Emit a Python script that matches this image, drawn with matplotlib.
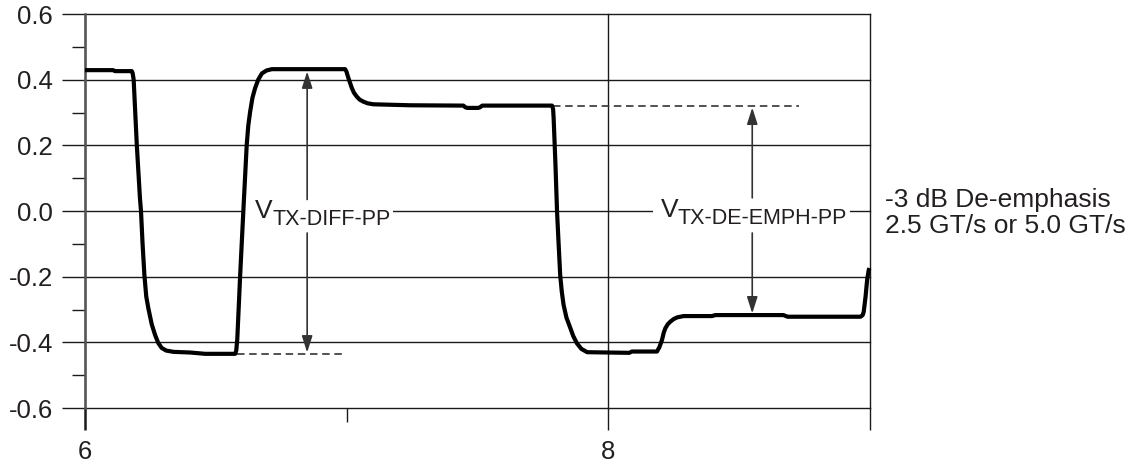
import matplotlib
matplotlib.use('Agg')
import matplotlib.pyplot as plt
from matplotlib.patches import Rectangle
import matplotlib.transforms as mtransforms

plt.rcParams['font.family'] = ['Liberation Sans', 'DejaVu Sans']

# ---- data ----
wave_t = [6.000, 6.107, 6.115, 6.179, 6.182, 6.186, 6.192, 6.198, 6.204, 6.210,
          6.214, 6.220, 6.227, 6.234, 6.242, 6.255, 6.268, 6.280, 6.293, 6.310,
          6.338, 6.402, 6.459, 6.574, 6.578, 6.582, 6.593, 6.605, 6.618, 6.624,
          6.631, 6.640, 6.650, 6.662, 6.676, 6.694, 6.714, 6.994, 6.999, 7.007,
          7.020, 7.028, 7.039, 7.050, 7.064, 7.080, 7.102, 7.243, 7.446, 7.453,
          7.461, 7.503, 7.510, 7.518, 7.785, 7.789, 7.791, 7.798, 7.804, 7.810,
          7.816, 7.822, 7.829, 7.840, 7.855, 7.866, 7.880, 7.897, 7.919, 8.080,
          8.090, 8.186, 8.195, 8.205, 8.212, 8.218, 8.227, 8.237, 8.250, 8.263,
          8.288, 8.396, 8.409, 8.669, 8.685, 8.964, 8.972, 8.976, 8.983, 8.989,
          8.995, 8.998]
wave_v = [0.429, 0.429, 0.426, 0.426, 0.420, 0.400, 0.300, 0.201, 0.120, 0.039,
          0.000, -0.100, -0.195, -0.260, -0.296, -0.345, -0.378, -0.402, -0.417, -0.425,
          -0.429, -0.431, -0.435, -0.435, -0.425, -0.390, -0.195, -0.002, 0.201, 0.260,
          0.302, 0.345, 0.374, 0.400, 0.419, 0.428, 0.432, 0.432, 0.425, 0.404,
          0.374, 0.360, 0.348, 0.339, 0.333, 0.328, 0.325, 0.322, 0.321, 0.316,
          0.314, 0.314, 0.316, 0.321, 0.321, 0.310, 0.282, 0.140, -0.002, -0.100,
          -0.195, -0.245, -0.286, -0.325, -0.357, -0.381, -0.403, -0.420, -0.430, -0.432,
          -0.428, -0.428, -0.415, -0.393, -0.370, -0.357, -0.345, -0.337, -0.329, -0.324,
          -0.320, -0.320, -0.317, -0.317, -0.322, -0.322, -0.317, -0.307, -0.261, -0.210,
          -0.180, -0.174]

x_major = [6, 8, 9]
x_major_labels = ['6', '8', '']
x_minor = [7]
y_major = [-0.6, -0.4, -0.2, 0.0, 0.2, 0.4, 0.6]
y_major_labels = ['-0.6', '-0.4', '-0.2', '0.0', '0.2', '0.4', '0.6']
y_minor = [-0.5, -0.3, -0.1, 0.1, 0.3, 0.5]

# annotation values
diff_high, diff_low = 0.430, -0.435
diff_x = 6.849
diff_dash = (6.58, 6.99)
emph_high, emph_low = 0.321, -0.312
emph_x = 8.55
emph_dash = (7.79, 8.727)
label_diff = ('V', 'TX-DIFF-PP')
label_emph = ('V', 'TX-DE-EMPH-PP')
side_text = ['-3 dB De-emphasis', '2.5 GT/s or 5.0 GT/s']

INK = '#231f20'
GRID = '#1a1a1a'

fig = plt.figure(figsize=(11.37, 4.67), dpi=100)
ax = fig.add_axes([85 / 1137, 1 - 408 / 467, (870 - 85) / 1137, (408 - 14) / 467])
ax.set_xlim(6, 9)
ax.set_ylim(-0.6, 0.6)

for side in ['top', 'right', 'bottom']:
    ax.spines[side].set_visible(False)
ax.spines['left'].set_color('#555555')
ax.spines['left'].set_linewidth(1.8)

ax.set_xticks(x_major)
ax.set_xticklabels(x_major_labels)
ax.set_xticks(x_minor, minor=True)
ax.set_yticks(y_major)
ax.set_yticklabels(y_major_labels)
ax.set_yticks(y_minor, minor=True)

ax.tick_params(axis='y', which='major', direction='out', length=16.6, width=1.0,
               color=GRID, pad=6.5, labelsize=18.5, labelcolor=INK)
ax.tick_params(axis='y', which='minor', direction='out', length=9.4, width=1.0, color=GRID)
ax.tick_params(axis='x', which='major', direction='out', length=15.8, width=1.0,
               color=GRID, pad=7.5, labelsize=18.5, labelcolor=INK)
ax.tick_params(axis='x', which='minor', direction='out', length=10, width=1.0, color=GRID)
t0 = ax.xaxis.get_major_ticks()[0]
t0.tick1line.set_color('#555555')
t0.tick1line.set_markeredgewidth(1.8)

ax.set_axisbelow(True)
ax.grid(True, which='major', color=GRID, lw=1.0)
for ln in ax.get_xgridlines() + ax.get_ygridlines():
    ln.set_clip_on(False)

# white gaps behind labels (hide 0.0 grid line)
ax.add_patch(Rectangle((6.606, -0.02), 7.178 - 6.606, 0.04, facecolor='white',
                       edgecolor='none', zorder=1.5))
ax.add_patch(Rectangle((8.172, -0.02), 8.925 - 8.172, 0.04, facecolor='white',
                       edgecolor='none', zorder=1.5))

# waveform
ax.plot(wave_t, wave_v, color='black', lw=3.0, solid_joinstyle='round',
        solid_capstyle='butt', zorder=3, clip_on=False)

# dashed reference lines
ax.hlines(diff_low, diff_dash[0], diff_dash[1], colors='#333333', linestyles=(0, (4.5, 2.8)),
          lw=1.2, zorder=2)
ax.hlines(emph_high, emph_dash[0], emph_dash[1], colors='#333333', linestyles=(0, (4.5, 2.8)),
          lw=1.2, zorder=2)

arrow_kw = dict(arrowstyle='-|>,head_length=1.0,head_width=0.32', color='#333333',
                lw=1.2, shrinkA=0, shrinkB=0, mutation_scale=10)
ax.annotate('', xy=(diff_x, diff_high - 0.005), xytext=(diff_x, 0.035), arrowprops=arrow_kw, zorder=2)
ax.annotate('', xy=(diff_x, diff_low + 0.004), xytext=(diff_x, -0.067), arrowprops=arrow_kw, zorder=2)
ax.annotate('', xy=(emph_x, emph_high - 0.006), xytext=(emph_x, 0.04), arrowprops=arrow_kw, zorder=2)
ax.annotate('', xy=(emph_x, emph_low), xytext=(emph_x, -0.067), arrowprops=arrow_kw, zorder=2)


def v_label(x, y, main, sub):
    ax.text(x, y, main, fontsize=19, color=INK, ha='left', va='baseline', zorder=4)
    tr = mtransforms.offset_copy(ax.transData, fig=fig, x=12.3, y=-5.0, units='points')
    ax.text(x, y, sub, fontsize=15.5, color=INK, ha='left', va='baseline',
            transform=tr, zorder=4)


v_label(6.650, -0.021, *label_diff)
v_label(8.199, -0.019, *label_emph)

ax.text(9.059, 0.012, side_text[0], fontsize=19, color=INK, ha='left', va='baseline',
        clip_on=False)
ax.text(9.059, -0.068, side_text[1], fontsize=19, color=INK, ha='left', va='baseline',
        clip_on=False)

fig.savefig('out.png', dpi=100)
